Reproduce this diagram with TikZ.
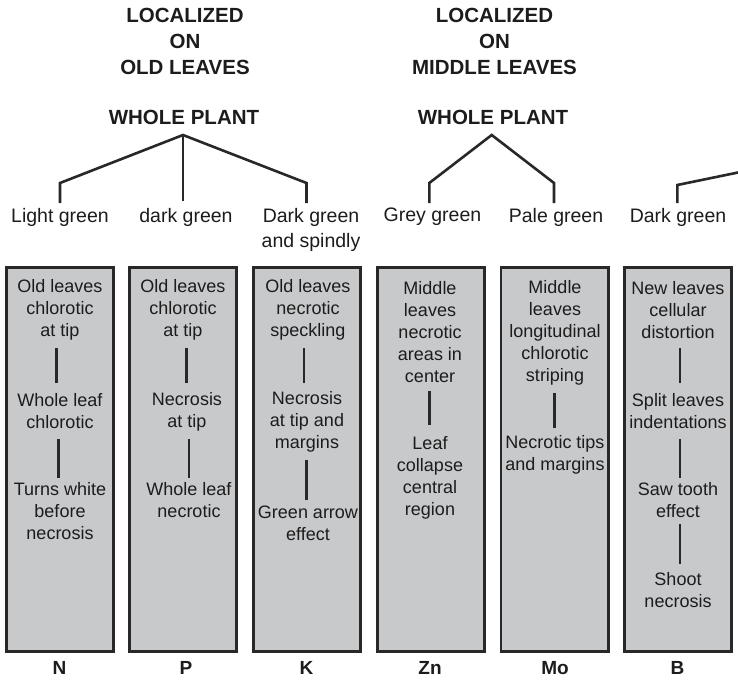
\documentclass[tikz,border=0pt]{standalone}
\usepackage{fontspec}
\setmainfont{Liberation Sans}
\definecolor{txt}{RGB}{28,28,28}
\definecolor{edge}{RGB}{40,40,40}
\definecolor{boxfill}{RGB}{200,201,203}
\begin{document}
\begin{tikzpicture}[x=1pt,y=-1pt,
  head/.style={font=\fontsize{20.5}{26}\selectfont\bfseries, align=center, inner sep=0pt, text=txt},
  lab/.style={font=\fontsize{19.5}{25}\selectfont, align=center, inner sep=0pt, text=txt},
  col/.style={draw=edge, fill=boxfill, line width=2.7pt, minimum width=107.3pt, minimum height=384.3pt, inner sep=0pt},
  sym/.style={font=\fontsize{19}{22}\selectfont\bfseries, inner sep=0pt, text=txt},
  desc/.style={font=\fontsize{18}{22}\selectfont, align=center, inner sep=0pt, text=txt},
  tree/.style={draw=edge, line width=2.6pt, line join=miter},
  bar/.style={draw=edge, line width=2.8pt}]
\useasboundingbox (0,0) rectangle (738,681);

% headings
\node[head] (locA) at (185,41) {LOCALIZED\\ON\\OLD LEAVES};
\node[head] (locB) at (494.5,41) {LOCALIZED\\ON\\MIDDLE LEAVES};
\node[head] (wpA) at (184,117) {WHOLE PLANT};
\node[head] (wpB) at (493,117) {WHOLE PLANT};

% colour labels
\node[lab] (lgA) at (60,217) {Light green};
\node[lab] (dgA) at (186,217) {dark green};
\node[lab] (dsA) at (311,229.5) {Dark green\\and spindly};
\node[lab] (ggB) at (432.5,217) {Grey green};
\node[lab] (pgB) at (556,217) {Pale green};
\node[lab] (dgC) at (678,217) {Dark green};

% tree coordinates
\coordinate (apA) at (183,135);
\coordinate (elA1) at (60,183);
\coordinate (enA1) at (60,203);
\coordinate (enA2) at (183,201);
\coordinate (elA3) at (306.5,183);
\coordinate (enA3) at (306.5,203);
\coordinate (apB) at (491.7,135);
\coordinate (elB1) at (429.3,183);
\coordinate (enB1) at (429.3,203);
\coordinate (elB2) at (554,183);
\coordinate (enB2) at (554,203);
\coordinate (elC1) at (677.3,185);
\coordinate (enC1) at (677.3,203);
\coordinate (frC) at (738,172.5);

\draw[tree] (enA1) -- (elA1) -- (apA) -- (elA3) -- (enA3);
\draw[tree] (apA) -- (enA2);
\draw[tree] (enB1) -- (elB1) -- (apB) -- (elB2) -- (enB2);
\draw[tree] (enC1) -- (elC1) -- (frC);

% columns
\node[col] (bN) at (60,459.5) {};
\node[col] (bP) at (183,459.5) {};
\node[col] (bK) at (307,459.5) {};
\node[col] (bZn) at (431,459.5) {};
\node[col] (bMo) at (554.5,459.5) {};
\node[col] (bB) at (678,459.5) {};

% element symbols
\node[sym] (sN) at (59.5,668) {N};
\node[sym] (sP) at (186,668) {P};
\node[sym] (sK) at (306.5,668) {K};
\node[sym] (sZn) at (430,668) {Zn};
\node[sym] (sMo) at (555,668) {Mo};
\node[sym] (sB) at (677.5,668) {B};

% N
\node[desc] (n1) at (60,310) {Old leaves\\chlorotic\\at tip};
\node[desc] (n2) at (60,411) {Whole leaf\\chlorotic};
\node[desc] (n3) at (60,511) {Turns white\\before\\necrosis};
\draw[bar] (56.5,348) -- (56.5,383);
\draw[bar] (58.5,439) -- (58.5,478);
% P
\node[desc] (p1) at (183,310) {Old leaves\\chlorotic\\at tip};
\node[desc] (p2) at (187,411.5) {Necrosis\\at tip};
\node[desc] (p3) at (189,500) {Whole leaf\\necrotic};
\draw[bar] (186.5,348) -- (186.5,383);
\draw[bar] (189,439) -- (189,478);
% K
\node[desc] (k1) at (308,310) {Old leaves\\necrotic\\speckling};
\node[desc] (k2) at (307,422) {Necrosis\\at tip and\\margins};
\node[desc] (k3) at (308,523.5) {Green arrow\\effect};
\draw[bar] (304,348) -- (304,383);
\draw[bar] (306.5,460) -- (306.5,500);
% Zn
\node[desc] (z1) at (430,332.5) {Middle\\leaves\\necrotic\\areas in\\center};
\node[desc] (z2) at (430,477.5) {Leaf\\collapse\\central\\region};
\draw[bar] (429.3,391) -- (429.3,425);
% Mo
\node[desc] (m1) at (555,332.5) {Middle\\leaves\\longitudinal\\chlorotic\\striping};
\node[desc] (m2) at (555,455) {Necrotic tips\\and margins};
\draw[bar] (554.3,393) -- (554.3,428);
% B
\node[desc] (b1) at (678,310) {New leaves\\cellular\\distortion};
\node[desc] (b2) at (678,411.5) {Split leaves\\indentations};
\node[desc] (b3) at (678,500.5) {Saw tooth\\effect};
\node[desc] (b4) at (678,590) {Shoot\\necrosis};
\draw[bar] (680,348) -- (680,383);
\draw[bar] (680,439) -- (680,478);
\draw[bar] (680,524) -- (680,564);
\end{tikzpicture}
\end{document}
